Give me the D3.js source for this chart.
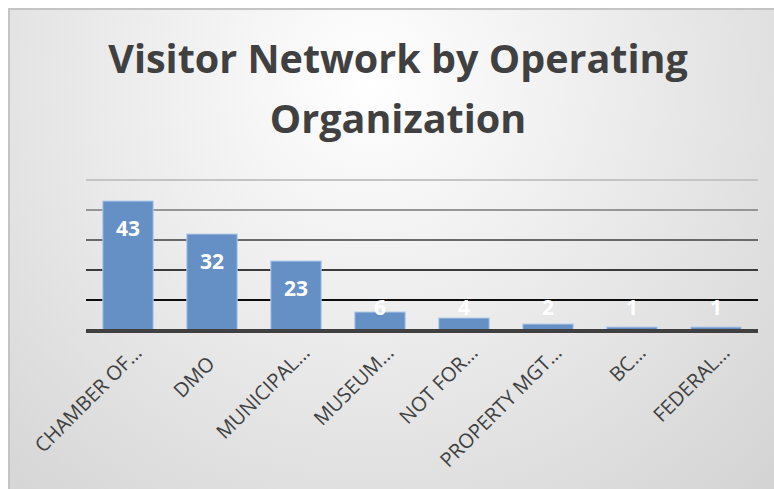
<!DOCTYPE html>
<html lang="en">
<head>
<meta charset="utf-8">
<title>Visitor Network by Operating Organization</title>
<script src="https://d3js.org/d3.v7.min.js"></script>
<style type="text/css">
body {
    margin: 0;
    padding: 0;
    background: #fff;
}
</style>
</head>
<body>
<div id="my_dataviz"></div>
<script>
// data
var categories = ["CHAMBER OF…", "DMO", "MUNICIPAL…", "MUSEUM…", "NOT FOR…", "PROPERTY MGT…", "BC…", "FEDERAL…"];
var counts = [43, 32, 23, 6, 4, 2, 1, 1];
var gridTicks = [10, 20, 30, 40, 50];
var titleLines = ["Visitor Network by Operating", "Organization"];

var W = 774, H = 489;
var margin = {top: 180, right: 16, bottom: 159, left: 86},
    width = W - margin.left - margin.right,
    height = H - margin.top - margin.bottom;

var svg = d3.select("#my_dataviz")
  .append("svg")
    .attr("width", W)
    .attr("height", H);

// background gradient + frame
var defs = svg.append("defs");
var bg = defs.append("radialGradient")
    .attr("id", "bg")
    .attr("gradientUnits", "userSpaceOnUse")
    .attr("cx", 370).attr("cy", 80).attr("r", 580);
bg.append("stop").attr("offset", "0%").attr("stop-color", "#ffffff");
bg.append("stop").attr("offset", "100%").attr("stop-color", "#d3d3d3");

svg.append("rect")
    .attr("x", 0).attr("y", 0).attr("width", W).attr("height", H)
    .attr("fill", "#ffffff");
svg.append("rect")
    .attr("x", 9).attr("y", 9).attr("width", W + 20).attr("height", H + 20)
    .attr("fill", "url(#bg)")
    .attr("stroke", "#c4c4c4")
    .attr("stroke-width", 2);

// title
svg.append("text")
    .attr("text-anchor", "middle")
    .style("font-family", "'Open Sans', sans-serif")
    .style("font-weight", "bold")
    .style("font-size", "39.5px")
    .attr("fill", "#404040")
  .selectAll("tspan")
  .data(titleLines)
  .enter().append("tspan")
    .attr("x", 398)
    .attr("y", function(d, i) { return 73 + i * 60; })
    .text(function(d) { return d; });

var g = svg.append("g")
    .attr("transform", "translate(" + margin.left + "," + margin.top + ")");

// scales
var x = d3.scaleBand()
  .domain(categories)
  .range([0, width])
  .paddingInner(0.4)
  .paddingOuter(0.2);

var y = d3.scaleLinear()
  .domain([0, 50])
  .range([height, 0]);

// gridlines get darker toward the bottom
var gridColor = d3.scaleLinear()
  .domain([10, 50])
  .range(["#0d0d0d", "#c4c4c4"]);

g.selectAll(".grid")
  .data(gridTicks)
  .enter().append("line")
    .attr("class", "grid")
    .attr("x1", 0)
    .attr("x2", width)
    .attr("y1", function(d) { return y(d); })
    .attr("y2", function(d) { return y(d); })
    .attr("stroke", function(d) { return gridColor(d); })
    .attr("stroke-width", 2);

// bars
g.selectAll(".bar")
  .data(counts)
  .enter().append("rect")
    .attr("class", "bar")
    .attr("x", function(d, i) { return x(categories[i]); })
    .attr("y", function(d) { return y(d); })
    .attr("width", x.bandwidth())
    .attr("height", function(d) { return height - y(d); })
    .attr("fill", "#6590c6")
    .attr("stroke", "#b3cbe8")
    .attr("stroke-width", 1);

// x axis line
g.append("line")
    .attr("x1", 0).attr("x2", width)
    .attr("y1", height + 1).attr("y2", height + 1)
    .attr("stroke", "#404040")
    .attr("stroke-width", 4);

// value labels, inside end (pinned near the axis for short bars)
g.selectAll(".myTexts")
  .data(counts)
  .enter().append("text")
    .attr("class", "myTexts")
    .attr("x", function(d, i) { return x(categories[i]) + x.bandwidth() / 2; })
    .attr("y", function(d) { return Math.min(y(d) + 35, height - 15); })
    .attr("text-anchor", "middle")
    .style("font-family", "'Open Sans', sans-serif")
    .style("font-weight", "bold")
    .style("font-size", "21px")
    .attr("fill", "#ffffff")
    .text(function(d) { return d; });

// category labels, rotated
var labelFont = "'Open Sans', sans-serif", labelSize = "20px";

// the truncated labels hang past the anchor by the width of the ellipsis
var probe = svg.append("text")
    .style("font-family", labelFont)
    .style("font-size", labelSize)
    .text("…");
var ellW = probe.node().getComputedTextLength();
probe.remove();

var xAxis = g.append("g")
    .attr("transform", "translate(0," + height + ")")
    .call(d3.axisBottom(x).tickSize(0).tickPadding(0));
xAxis.select(".domain").remove();
xAxis.selectAll("text")
    .attr("x", 0).attr("y", 0).attr("dy", 0)
    .attr("text-anchor", "end")
    .attr("transform", function(d) {
      var e = d.slice(-1) === "…" ? ellW * Math.SQRT1_2 : 0;
      return "translate(" + (4 + e) + "," + (35 - e) + ") rotate(-45)";
    })
    .style("font-family", labelFont)
    .style("font-size", labelSize)
    .attr("fill", "#404040");
</script>
</body>
</html>
